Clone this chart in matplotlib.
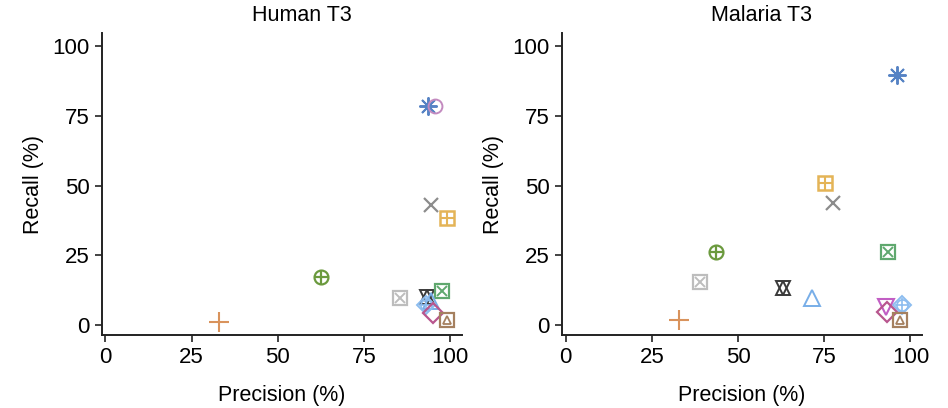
import matplotlib
matplotlib.use("Agg")
import matplotlib.pyplot as plt

plt.rcParams['font.family'] = ['Liberation Sans', 'DejaVu Sans']

# Tool markers, drawn in this order
tools = ["asterisk", "circle", "cross", "sqgrid", "circplus", "plus",
         "sqx_grey", "star", "sqx_green", "triangle", "diamplus",
         "tridown", "diamond", "sqtri"]

colors = {
    "asterisk": "#5683c4", "circle": "#c38abf", "cross": "#8c8c8c",
    "sqgrid": "#e4b457", "circplus": "#6b9a3e", "plus": "#d9935c",
    "sqx_grey": "#bdbdbd", "star": "#3a3a3a", "sqx_green": "#5fa86e",
    "triangle": "#78aee8", "diamplus": "#8cbcef", "tridown": "#c25ec4",
    "diamond": "#b8568e", "sqtri": "#a5805f",
}

# Precision / recall per tool, Human T3
human_prec = {"asterisk": 93.5, "circle": 95.5, "cross": 94.5, "sqgrid": 99.0,
              "circplus": 62.5, "plus": 33.0, "sqx_grey": 85.5, "star": 93.3,
              "sqx_green": 97.7, "triangle": 94.5, "diamplus": 93.0,
              "diamond": 95.0, "sqtri": 99.0}
human_rec = {"asterisk": 78.5, "circle": 78.5, "cross": 43.0, "sqgrid": 38.5,
             "circplus": 17.3, "plus": 1.0, "sqx_grey": 9.7, "star": 10.0,
             "sqx_green": 12.2, "triangle": 8.5, "diamplus": 7.0,
             "diamond": 4.3, "sqtri": 1.8}

# Precision / recall per tool, Malaria T3
malaria_prec = {"asterisk": 96.2, "sqgrid": 75.3, "cross": 77.6, "circplus": 43.6,
                "sqx_grey": 39.0, "plus": 32.8, "star": 63.0, "triangle": 71.5,
                "sqx_green": 93.6, "tridown": 93.0, "diamplus": 97.7,
                "diamond": 93.3, "sqtri": 97.0}
malaria_rec = {"asterisk": 89.6, "sqgrid": 50.9, "cross": 43.7, "circplus": 26.2,
               "sqx_grey": 15.4, "plus": 1.8, "star": 13.3, "triangle": 9.7,
               "sqx_green": 26.2, "tridown": 6.5, "diamplus": 7.2,
               "diamond": 4.7, "sqtri": 1.8}

ticks = [0, 25, 50, 75, 100]
titles = ["Human T3", "Malaria T3"]


def draw_marker(ax, name, x, y):
    c = colors[name]
    kw = dict(linestyle="none", markerfacecolor="none", markeredgecolor=c, zorder=3)
    if name == "asterisk":
        ax.plot(x, y, marker=(8, 2, 0), ms=13, mew=1.4, **kw)
    elif name == "circle":
        ax.plot(x, y, marker="o", ms=10, mew=1.4, **kw)
    elif name == "cross":
        ax.plot(x, y, marker="x", ms=10, mew=1.6, **kw)
    elif name == "sqgrid":
        ax.plot(x, y, marker="s", ms=10, mew=1.8, **kw)
        ax.plot(x, y, marker="+", ms=10, mew=1.5, **kw)
    elif name == "circplus":
        ax.plot(x, y, marker="o", ms=10, mew=1.6, **kw)
        ax.plot(x, y, marker="+", ms=10, mew=1.6, **kw)
    elif name == "plus":
        ax.plot(x, y, marker="+", ms=14, mew=1.5, **kw)
    elif name in ("sqx_grey", "sqx_green"):
        ax.plot(x, y, marker="s", ms=9.5, mew=1.6, **kw)
        ax.plot(x, y, marker="x", ms=7, mew=1.4, **kw)
    elif name == "star":
        ax.plot(x, y, marker="^", ms=10, mew=1.4, **kw)
        ax.plot(x, y, marker="v", ms=10, mew=1.4, **kw)
    elif name == "triangle":
        ax.plot(x, y, marker="^", ms=11, mew=1.4, **kw)
    elif name == "diamplus":
        ax.plot(x, y, marker="D", ms=9, mew=1.4, **kw)
        ax.plot(x, y, marker="o", ms=8, mew=1.2, **kw)
        ax.plot(x, y, marker="+", ms=10, mew=1.2, **kw)
    elif name == "tridown":
        ax.plot(x, y, marker="v", ms=11, mew=1.5, **kw)
    elif name == "diamond":
        ax.plot(x, y, marker="D", ms=10, mew=1.6, **kw)
    elif name == "sqtri":
        ax.plot(x, y, marker="s", ms=10, mew=1.6, **kw)
        ax.plot(x, y, marker="^", ms=6, mew=1.3, **kw)


fig = plt.figure(figsize=(9.48, 4.08), dpi=100)
ax1 = fig.add_axes([0.1076, 0.179, 0.3797, 0.74])
ax2 = fig.add_axes([0.5930, 0.179, 0.3797, 0.74])

for ax, title, prec, rec in [(ax1, titles[0], human_prec, human_rec),
                             (ax2, titles[1], malaria_prec, malaria_rec)]:
    for name in tools:
        if name in prec:
            draw_marker(ax, name, prec[name], rec[name])
    ax.set_xlim(-1.0, 103.4)
    ax.set_ylim(-3.6, 104.7)
    ax.set_xticks(ticks)
    ax.set_yticks(ticks)
    ax.spines["top"].set_visible(False)
    ax.spines["right"].set_visible(False)
    for s in ("left", "bottom"):
        ax.spines[s].set_linewidth(1.4)
        ax.spines[s].set_color("#222222")
    ax.tick_params(direction="out", length=5, width=1.2, labelsize=16,
                   color="#222222", pad=4)
    ax.set_xlabel("Precision (%)", fontsize=15.5, labelpad=12)
    ax.set_ylabel("Recall (%)", fontsize=15.5, labelpad=6)
    ax.set_title(title, fontsize=15.5, pad=9, x=0.555)

fig.savefig("out.png", dpi=100)
